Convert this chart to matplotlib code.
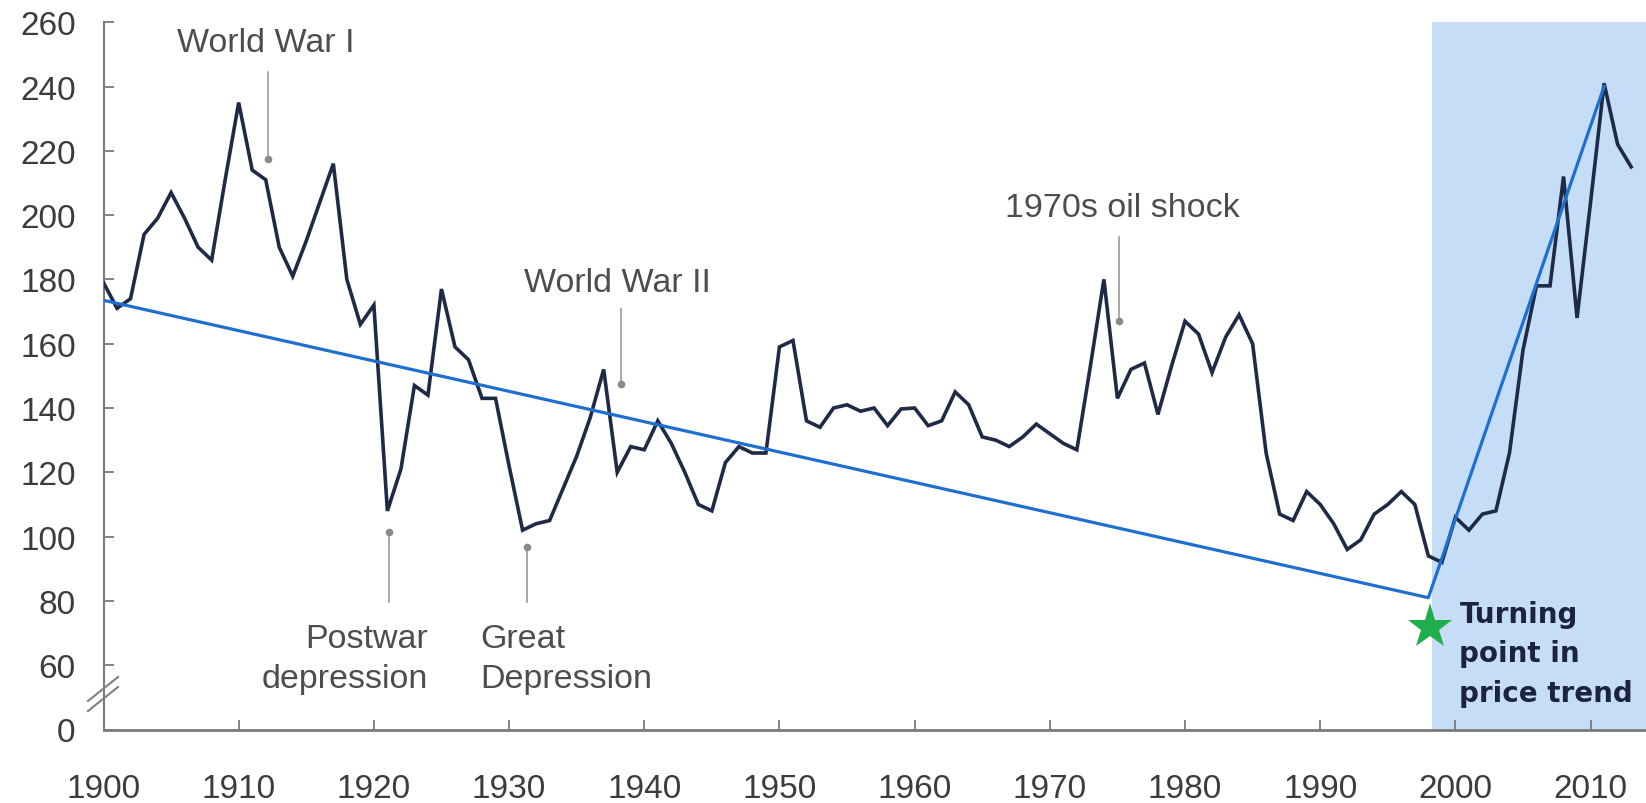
import matplotlib
matplotlib.use("Agg")
import matplotlib.pyplot as plt
from matplotlib.lines import Line2D

plt.rcParams['font.family'] = ['Liberation Sans', 'DejaVu Sans']

# ---------------- data ----------------
years = list(range(1900, 2014))
prices = [
    179, 171, 174, 194, 199, 207, 199, 190, 186, 211,   # 1900-1909
    235, 214, 211, 190, 181, 192, 204, 216, 180, 166,   # 1910-1919
    172, 108, 121, 147, 144, 177, 159, 155, 143, 143,   # 1920-1929
    122, 102, 104, 105, 115, 125, 137, 152, 120, 128,   # 1930-1939
    127, 136, 129, 120, 110, 108, 123, 128, 126, 126,   # 1940-1949
    159, 161, 136, 134, 140, 141, 139, 140, 134.5, 139.7,  # 1950-1959
    140, 134.5, 136, 145, 141, 131, 130, 128, 131, 135,  # 1960-1969
    132, 129, 127, 153, 180, 143, 152, 154, 138, 153,   # 1970-1979
    167, 163, 151, 162, 169, 160, 126, 107, 105, 114,   # 1980-1989
    110, 104, 96, 99, 107, 110, 114, 110, 94, 92,       # 1990-1999
    106, 102, 107, 108, 126, 158, 178, 178, 212, 168,   # 2000-2009
    204, 241, 222, 215,                                 # 2010-2013
]

trend_years = [1900, 1998, 2011]
trend_values = [173.5, 81, 240]

turning_year = 1998.1
turning_value = 72

ytick_pos = [40, 60, 80, 100, 120, 140, 160, 180, 200, 220, 240, 260]
ytick_labels = ['0', '60', '80', '100', '120', '140', '160', '180', '200', '220', '240', '260']
xtick_pos = list(range(1900, 2011, 10))
xtick_labels = [str(y) for y in xtick_pos]

shade_start = 1998.3
x_end = 2014.1

# annotations: (label lines, x, baselines, ha), leader (x, y_top, y_dot)
ann_top = [
    ("World War I", 1912.0, 251.1, 1912.2, 244.5, 217.4),
    ("World War II", 1938.05, 176.5, 1938.3, 170.8, 147.5),
    ("1970s oil shock", 1975.37, 199.8, 1975.1, 193.2, 167.2),
]
ann_bottom = [
    (["Postwar", "depression"], 1924.0, [65.7, 53.2], 'right', 1921.1, 101.4, 79.6),
    (["Great", "Depression"], 1927.85, [65.7, 53.2], 'left', 1931.3, 96.8, 79.6),
]
turning_lines = ["Turning", "point in", "price trend"]
turning_baselines = [73.4, 61.3, 48.9]
turning_text_x = 2000.3

# ---------------- figure ----------------
W, H = 1646, 804
fig = plt.figure(figsize=(W / 100, H / 100), dpi=100)
ax = fig.add_axes([103.5 / W, 1 - 730.5 / H, 1 - 103.5 / W, (730.5 - 23.2) / H])

ax.set_xlim(1900, x_end)
ax.set_ylim(40, 260)

ax.axvspan(shade_start, x_end, color='#c6ddf7', zorder=0, lw=0)

ax.plot(years, prices, color='#1e2a46', lw=2.6, zorder=3, solid_joinstyle='miter')
ax.plot(trend_years, trend_values, color='#1f6fd0', lw=2.3, zorder=4)
ax.plot([turning_year], [turning_value], marker='*', markersize=34,
        color='#1fae4b', markeredgewidth=0, zorder=5, clip_on=False)

ann_color = '#4d4d4d'
lead_color = '#9a9a9a'
fs = 24.5
for label, tx, ty, lx, ltop, ldot in ann_top:
    ax.text(tx, ty, label, ha='center', va='baseline', fontsize=fs, color=ann_color, zorder=6)
    ax.plot([lx, lx], [ltop, ldot], color=lead_color, lw=1.2, zorder=2)
    ax.plot([lx], [ldot], 'o', color='#8a8a8a', markersize=4.5, zorder=2)

for lines, tx, bys, ha, lx, ldot, lbot in ann_bottom:
    for line, by in zip(lines, bys):
        ax.text(tx, by, line, ha=ha, va='baseline', fontsize=fs, color=ann_color, zorder=6)
    ax.plot([lx, lx], [ldot, lbot], color=lead_color, lw=1.2, zorder=2)
    ax.plot([lx], [ldot], 'o', color='#8a8a8a', markersize=4.5, zorder=2)

for line, by in zip(turning_lines, turning_baselines):
    ax.text(turning_text_x, by, line, ha='left', va='baseline', fontsize=20,
            fontweight='bold', family='DejaVu Sans', color='#1b2340', zorder=6)

# axes styling
for s in ['top', 'right']:
    ax.spines[s].set_visible(False)
ax.spines['left'].set_color('#7a7a7a')
ax.spines['left'].set_linewidth(1.5)
ax.spines['bottom'].set_color('#7a7a7a')
ax.spines['bottom'].set_linewidth(2.0)

ax.set_yticks(ytick_pos)
ax.set_yticklabels(ytick_labels)
ax.set_xticks(xtick_pos)
ax.set_xticklabels(xtick_labels)
ax.tick_params(axis='both', direction='in', length=7, width=1.3, color='#7a7a7a',
               labelsize=24, labelcolor='#3c3c3c')
ax.tick_params(axis='x', pad=31)
ax.tick_params(axis='y', pad=20)

# axis break marks
for off in (0, 10):
    fig.add_artist(Line2D([88 / W, 118 / W], [1 - (712 - off) / H, 1 - (688 - off) / H],
                          color='#808080', lw=1.5))

fig.savefig('out.png', dpi=100)
